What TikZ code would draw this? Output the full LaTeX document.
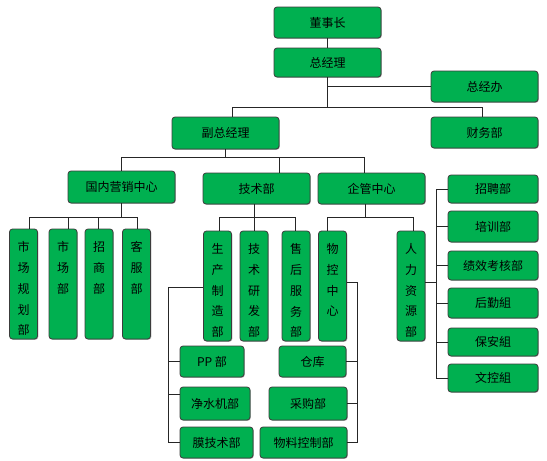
\documentclass[tikz,border=0pt]{standalone}
\usepackage{fontspec}
\setmainfont{Noto Sans CJK SC}
\usetikzlibrary{shadows}
\definecolor{boxgreen}{RGB}{0,176,80}
\definecolor{boxedge}{RGB}{60,60,60}
\newcommand{\vtxt}[1]{\parbox[c][110pt][t]{28pt}{\centering\fontsize{12}{20.8}\selectfont\vspace*{12.5pt}#1\par}}
\tikzset{
  orgbox/.style={draw=boxedge, line width=0.8pt, fill=boxgreen, rounded corners=3pt,
    inner sep=0pt, font=\fontsize{12}{14}\selectfont, text=black,
    drop shadow={shadow xshift=0.8pt, shadow yshift=-0.8pt, fill=black!45, opacity=0.7}},
  vbox/.style={orgbox, minimum width=28pt, minimum height=110pt},
  conn/.style={draw=black!85, line width=0.8pt}
}
\begin{document}
\begin{tikzpicture}[x=1pt, y=-1pt]
\fill[white] (0,0) rectangle (547,461);
\useasboundingbox (0,0) rectangle (547,461);

% top level
\node[orgbox, minimum width=107pt, minimum height=31pt] (dsz) at (327.5,22.5) {董事长};
\node[orgbox, minimum width=107pt, minimum height=29pt] (zjl) at (327.5,62.5) {总经理};
\node[orgbox, minimum width=107pt, minimum height=31pt] (zjb) at (484.5,86.5) {总经办};
\node[orgbox, minimum width=107pt, minimum height=31pt] (cwb) at (484.5,132.5) {财务部};
\node[orgbox, minimum width=107pt, minimum height=32pt] (fzjl) at (225.5,133) {副总经理};

% second level
\node[orgbox, minimum width=107pt, minimum height=32pt] (gnyx) at (121.5,187) {国内营销中心};
\node[orgbox, minimum width=107pt, minimum height=31pt] (jsb) at (256.5,188.5) {技术部};
\node[orgbox, minimum width=107pt, minimum height=31pt] (qgzx) at (371.5,188.5) {企管中心};

% right column
\node[orgbox, minimum width=90pt, minimum height=28pt] (zp) at (493,189) {招聘部};
\node[orgbox, minimum width=90pt, minimum height=31pt] (px) at (493,226.5) {培训部};
\node[orgbox, minimum width=90pt, minimum height=29pt] (jx) at (493,265.5) {绩效考核部};
\node[orgbox, minimum width=90pt, minimum height=30pt] (hq) at (493,303) {后勤組};
\node[orgbox, minimum width=90pt, minimum height=28pt] (ba) at (493,342) {保安組};
\node[orgbox, minimum width=90pt, minimum height=28pt] (wk) at (493,378) {文控組};

% vertical boxes
\node[vbox] (scgh) at (23.5,284) {\vtxt{市\\场\\规\\划\\部}};
\node[vbox] (scb) at (63,284) {\vtxt{市\\场\\部}};
\node[vbox] (zsb) at (99,284) {\vtxt{招\\商\\部}};
\node[vbox] (kfb) at (136.5,284) {\vtxt{客\\服\\部}};
\node[vbox] (sczz) at (217.5,286) {\vtxt{生\\产\\制\\造\\部}};
\node[vbox] (jsyf) at (254,286) {\vtxt{技\\术\\研\\发\\部}};
\node[vbox] (shfw) at (296,286) {\vtxt{售\\后\\服\\务\\部}};
\node[vbox] (wkzx) at (332.5,286) {\vtxt{物\\控\\中\\心}};
\node[vbox] (rlzy) at (411,286) {\vtxt{人\\力\\资\\源\\部}};

% bottom boxes
\node[orgbox, minimum width=64pt, minimum height=31pt] (pp) at (212,361.5) {PP 部};
\node[orgbox, minimum width=67pt, minimum height=31pt] (ck) at (312.5,361.5) {仓库};
\node[orgbox, minimum width=70pt, minimum height=33pt] (jsj) at (215,403.5) {净水机部};
\node[orgbox, minimum width=78pt, minimum height=33pt] (cg) at (308,403.5) {采购部};
\node[orgbox, minimum width=73pt, minimum height=31pt] (mjs) at (216.5,442.5) {膜技术部};
\node[orgbox, minimum width=87pt, minimum height=31pt] (wlkz) at (303.5,442.5) {物料控制部};

% connectors: top
\draw[conn] (dsz.south) -- (zjl.north);
\coordinate (j1) at (327.5,107);
\draw[conn] (zjl.south) -- (j1);
\draw[conn] (zjl.south |- zjb.west) -- (zjb.west);
\coordinate (j2) at (232,107);
\coordinate (j3) at (482,107);
\draw[conn] (j2 |- fzjl.north) -- (j2) -- (j3) -- (j3 |- cwb.north);

% 副总经理 children
\coordinate (k1) at (225.5,157);
\draw[conn] (fzjl.south) -- (k1);
\coordinate (k2) at (279,157);
\coordinate (k3) at (364,157);
\draw[conn] (gnyx.north) |- (k3) -- (k3 |- qgzx.north);
\draw[conn] (k2) -- (k2 |- jsb.north);

% 国内营销中心 children
\coordinate (g0) at (121.5,217);
\draw[conn] (gnyx.south) -- (g0);
\coordinate (g1) at (29,217);
\coordinate (g2) at (68,217);
\coordinate (g3) at (98,217);
\coordinate (g4) at (137,217);
\draw[conn] (g1 |- scgh.north) -- (g1) -- (g4) -- (g4 |- kfb.north);
\draw[conn] (g2) -- (g2 |- scb.north);
\draw[conn] (g3) -- (g3 |- zsb.north);

% 技术部 children
\draw[conn] (jsyf.north |- jsb.south) -- (jsyf.north);
\coordinate (t1) at (219,217);
\coordinate (t2) at (295,217);
\draw[conn] (t1 |- sczz.north) -- (t1) -- (t2) -- (t2 |- shfw.north);

% 企管中心 children
\coordinate (q0) at (365,217);
\draw[conn] (q0 |- qgzx.south) -- (q0);
\coordinate (q1) at (327,217);
\coordinate (q2) at (413,217);
\draw[conn] (q1 |- wkzx.north) -- (q1) -- (q2) -- (q2 |- rlzy.north);

% 人力资源部 children
\coordinate (h1) at (436,282);
\draw[conn] (rlzy.east |- h1) -- (h1);
\draw[conn] (zp.west) -- (zp.west -| h1) -- (wk.west -| h1) -- (wk.west);
\draw[conn] (px.west) -- (px.west -| h1);
\draw[conn] (jx.west) -- (jx.west -| h1);
\draw[conn] (hq.west) -- (hq.west -| h1);
\draw[conn] (ba.west) -- (ba.west -| h1);

% 物控中心 children
\coordinate (r1) at (357,282);
\draw[conn] (wkzx.east |- r1) -- (r1) -- (r1 |- wlkz.east) -- (wlkz.east);
\draw[conn] (ck.east) -- (ck.east -| r1);
\draw[conn] (cg.east) -- (cg.east -| r1);

% 生产制造部 children
\coordinate (l1) at (168,287);
\draw[conn] (sczz.west |- l1) -- (l1) -- (l1 |- mjs.west) -- (mjs.west);
\draw[conn] (pp.west) -- (pp.west -| l1);
\draw[conn] ([yshift=9pt]jsj.west) -- ([yshift=9pt]jsj.west -| l1);
\end{tikzpicture}
\end{document}
